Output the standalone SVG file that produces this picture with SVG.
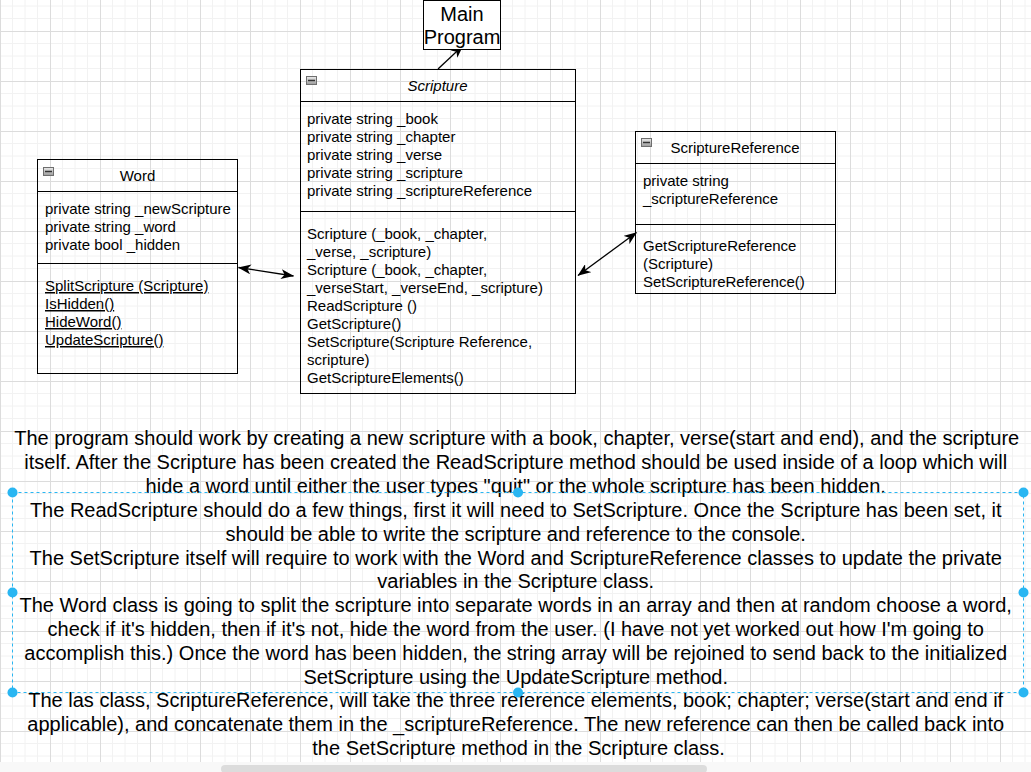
<svg xmlns="http://www.w3.org/2000/svg" width="1031" height="772" viewBox="0 0 1031 772">
<style>
.box{fill:none;stroke:#000;stroke-width:1}
.div{stroke:#000;stroke-width:1}
.t{font-family:"Liberation Sans",Arial,sans-serif;font-size:15px;fill:#000}
.hdr{text-anchor:middle}
.it{font-style:italic}
.u{text-decoration:underline}
.body{font-family:"Liberation Sans",Arial,sans-serif;font-size:20px;fill:#000;text-anchor:middle}
.conn{stroke:#000;stroke-width:1.3;fill:none}
.sel{fill:none;stroke:#29b6f2;stroke-width:1;stroke-dasharray:3 3}
.h{fill:#29b6f2}
.icon{fill:url(#ig);stroke:#6e6e6e;stroke-width:1}
</style>
<defs>
<pattern id="grid" width="50" height="50" patternUnits="userSpaceOnUse" x="0" y="31">
<path d="M12.5 0V50M25 0V50M37.5 0V50M0 12.5H50M0 25H50M0 37.5H50" stroke="#f2f2f2" stroke-width="1" fill="none"/>
<path d="M0.5 0V50M0 0.5H50" stroke="#dcdcdc" stroke-width="1" fill="none"/>
</pattern>
<linearGradient id="ig" x1="0" y1="0" x2="0" y2="1">
<stop offset="0" stop-color="#ececec"/>
<stop offset="1" stop-color="#9a9a9a"/>
</linearGradient>
<marker id="arr" viewBox="0 0 13 10" refX="12.5" refY="5" markerWidth="13" markerHeight="10" markerUnits="userSpaceOnUse" orient="auto-start-reverse">
<path d="M0,0 L13,5 L0,10 L3.5,5 Z" fill="#000"/>
</marker>
</defs>
<rect x="0" y="0" width="1031" height="772" fill="#fff"/>
<rect x="0" y="0" width="1031" height="772" fill="url(#grid)"/>

<g id="connectors">
<line class="conn" x1="438" y1="69" x2="463" y2="45.5" marker-end="url(#arr)"/>
<line class="conn" x1="238.5" y1="267.5" x2="293.5" y2="276" marker-start="url(#arr)" marker-end="url(#arr)"/>
<line class="conn" x1="578" y1="275.5" x2="636.5" y2="232.5" marker-start="url(#arr)" marker-end="url(#arr)"/>
</g>

<g id="main-program">
<rect x="423.5" y="0.5" width="77" height="49" fill="#fff" stroke="#000"/>
<text class="t" x="462" y="20.5" text-anchor="middle" style="font-size:20px">Main</text>
<text class="t" x="462" y="43.5" text-anchor="middle" style="font-size:20px">Program</text>
</g>

<g id="scripture">
<rect class="box" x="300.5" y="69.5" width="275" height="324"/>
<line class="div" x1="300.5" y1="101.5" x2="575.5" y2="101.5"/>
<line class="div" x1="300.5" y1="211.5" x2="575.5" y2="211.5"/>
<rect class="icon" x="306.5" y="76.5" width="10" height="8"/>
<line x1="308" y1="80.5" x2="315" y2="80.5" stroke="#333" stroke-width="1.5"/>
<text class="t hdr it" x="437.5" y="91">Scripture</text>
<text class="t" x="307"><tspan x="307" y="124">private string _book</tspan><tspan x="307" y="142">private string _chapter</tspan><tspan x="307" y="160">private string _verse</tspan><tspan x="307" y="178">private string _scripture</tspan><tspan x="307" y="196">private string _scriptureReference</tspan></text>
<text class="t" x="307"><tspan x="307" y="239">Scripture (_book, _chapter,</tspan><tspan x="307" y="257">_verse, _scripture)</tspan><tspan x="307" y="275">Scripture (_book, _chapter,</tspan><tspan x="307" y="293">_verseStart, _verseEnd, _scripture)</tspan><tspan x="307" y="311">ReadScripture ()</tspan><tspan x="307" y="329">GetScripture()</tspan><tspan x="307" y="347">SetScripture(Scripture Reference,</tspan><tspan x="307" y="365">scripture)</tspan><tspan x="307" y="383">GetScriptureElements()</tspan></text>
</g>

<g id="word">
<rect class="box" x="37.5" y="159.5" width="200" height="214"/>
<line class="div" x1="37.5" y1="191.5" x2="237.5" y2="191.5"/>
<line class="div" x1="37.5" y1="263.5" x2="237.5" y2="263.5"/>
<rect class="icon" x="43.5" y="167.5" width="10" height="8"/>
<line x1="45" y1="171.5" x2="52" y2="171.5" stroke="#333" stroke-width="1.5"/>
<text class="t hdr" x="137.5" y="180.5">Word</text>
<text class="t" x="45"><tspan x="45" y="214">private string _newScripture</tspan><tspan x="45" y="232">private string _word</tspan><tspan x="45" y="250">private bool _hidden</tspan></text>
<text class="t u" x="45"><tspan x="45" y="291">SplitScripture (Scripture)</tspan><tspan x="45" y="309">IsHidden()</tspan><tspan x="45" y="327">HideWord()</tspan><tspan x="45" y="345">UpdateScripture()</tspan></text>
</g>

<g id="scripture-reference">
<rect class="box" x="635.5" y="131.5" width="200" height="162"/>
<line class="div" x1="635.5" y1="163.5" x2="835.5" y2="163.5"/>
<line class="div" x1="635.5" y1="224.5" x2="835.5" y2="224.5"/>
<rect class="icon" x="641.5" y="138.5" width="10" height="8"/>
<line x1="643" y1="142.5" x2="650" y2="142.5" stroke="#333" stroke-width="1.5"/>
<text class="t hdr" x="735" y="153">ScriptureReference</text>
<text class="t" x="643"><tspan x="643" y="185.5">private string</tspan><tspan x="643" y="203.5">_scriptureReference</tspan></text>
<text class="t" x="643"><tspan x="643" y="251">GetScriptureReference</tspan><tspan x="643" y="269">(Scripture)</tspan><tspan x="643" y="287">SetScriptureReference()</tspan></text>
</g>

<g id="description">
<text class="body" x="518.5">
<tspan x="519.5" y="445">The program should work by creating a new scripture with a book, chapter, verse(start and end), and the scripture</tspan>
<tspan x="518.5" y="469">itself. After the Scripture has been created the ReadScripture method should be used inside of a loop which will</tspan>
<tspan x="518.5" y="493">hide a word until either the user types "quit" or the whole scripture has been hidden.</tspan>
<tspan x="518.5" y="516.5">The ReadScripture should do a few things, first it will need to SetScripture. Once the Scripture has been set, it</tspan>
<tspan x="518.5" y="540.5">should be able to write the scripture and reference to the console.</tspan>
<tspan x="518.5" y="564.5">The SetScripture itself will require to work with the Word and ScriptureReference classes to update the private</tspan>
<tspan x="518.5" y="588">variables in the Scripture class.</tspan>
<tspan x="518.5" y="612">The Word class is going to split the scripture into separate words in an array and then at random choose a word,</tspan>
<tspan x="518.5" y="636">check if it's hidden, then if it's not, hide the word from the user. (I have not yet worked out how I'm going to</tspan>
<tspan x="518.5" y="659.5">accomplish this.) Once the word has been hidden, the string array will be rejoined to send back to the initialized</tspan>
<tspan x="518.5" y="683.5">SetScripture using the UpdateScripture method.</tspan>
<tspan x="518.5" y="707">The las class, ScriptureReference, will take the three reference elements, book; chapter; verse(start and end if</tspan>
<tspan x="518.5" y="731">applicable), and concatenate them in the _scriptureReference. The new reference can then be called back into</tspan>
<tspan x="518.5" y="755">the SetScripture method in the Scripture class.</tspan>
</text>
</g>

<g id="selection">
<rect class="sel" x="12.5" y="492.5" width="1011" height="200"/>
<circle class="h" cx="12.5" cy="492.5" r="5"/>
<circle class="h" cx="518" cy="492.5" r="5"/>
<circle class="h" cx="1023.5" cy="492.5" r="5"/>
<circle class="h" cx="12.5" cy="592.5" r="5"/>
<circle class="h" cx="1023.5" cy="592.5" r="5"/>
<circle class="h" cx="12.5" cy="692.5" r="5"/>
<circle class="h" cx="518" cy="692.5" r="5"/>
<circle class="h" cx="1023.5" cy="692.5" r="5"/>
</g>

<g id="scrollbar">
<rect x="0" y="762" width="1031" height="10" fill="#f8f8f8"/>
<rect x="221" y="765" width="486" height="8" rx="4" fill="#dcdcdc"/>
</g>
</svg>
